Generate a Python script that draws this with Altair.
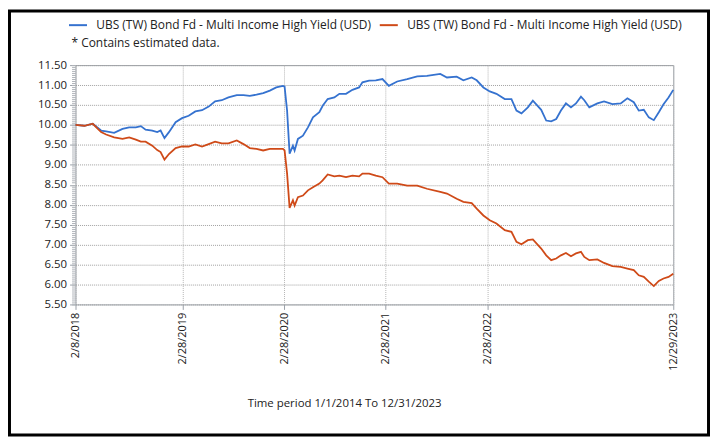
import altair as alt
import pandas as pd

# ---- data ----
dates = [
    "2018-02-08", "2018-03-12", "2018-04-11", "2018-05-11", "2018-05-29", "2018-06-27",
    "2018-07-27", "2018-08-20", "2018-09-13", "2018-10-01", "2018-10-18", "2018-11-11",
    "2018-11-29", "2018-12-11", "2018-12-25", "2019-01-10", "2019-02-03", "2019-02-26",
    "2019-03-22", "2019-04-15", "2019-05-09", "2019-06-02", "2019-06-25", "2019-07-19",
    "2019-08-12", "2019-09-11", "2019-10-05", "2019-10-28", "2019-11-21", "2019-12-15",
    "2020-01-08", "2020-01-31", "2020-02-24", "2020-03-01", "2020-03-10", "2020-03-19",
    "2020-03-31", "2020-04-06", "2020-04-18", "2020-05-06", "2020-05-24", "2020-06-11",
    "2020-07-04", "2020-07-16", "2020-08-03", "2020-08-27", "2020-09-14", "2020-10-08",
    "2020-10-31", "2020-11-24", "2020-12-06", "2020-12-30", "2021-01-23", "2021-02-16",
    "2021-03-11", "2021-04-10", "2021-05-16", "2021-06-21", "2021-07-26", "2021-09-12",
    "2021-10-06", "2021-11-10", "2021-12-04", "2022-01-03", "2022-01-21", "2022-02-14",
    "2022-03-09", "2022-04-02", "2022-05-02", "2022-05-26", "2022-06-13", "2022-07-01",
    "2022-07-24", "2022-08-11", "2022-09-10", "2022-09-28", "2022-10-16", "2022-11-03",
    "2022-11-20", "2022-12-08", "2022-12-26", "2023-01-13", "2023-01-31", "2023-02-12",
    "2023-03-02", "2023-03-31", "2023-04-24", "2023-05-24", "2023-06-23", "2023-07-17",
    "2023-08-09", "2023-08-27", "2023-09-14", "2023-10-02", "2023-10-20", "2023-11-07",
    "2023-11-24", "2023-12-12", "2023-12-29",
]

blue_values = [
    10.00, 9.98, 10.03, 9.86, 9.84, 9.80,
    9.90, 9.94, 9.94, 9.97, 9.88, 9.86,
    9.82, 9.86, 9.67, 9.82, 10.07, 10.17,
    10.23, 10.34, 10.37, 10.46, 10.59, 10.62,
    10.69, 10.75, 10.75, 10.73, 10.76, 10.80,
    10.86, 10.94, 10.98, 10.96, 10.36, 9.28,
    9.48, 9.36, 9.65, 9.73, 9.94, 10.19,
    10.32, 10.48, 10.65, 10.69, 10.78, 10.78,
    10.88, 10.94, 11.07, 11.11, 11.12, 11.15,
    10.98, 11.09, 11.15, 11.22, 11.23, 11.28,
    11.19, 11.21, 11.12, 11.19, 11.12, 10.94,
    10.84, 10.78, 10.65, 10.65, 10.36, 10.29,
    10.44, 10.61, 10.38, 10.11, 10.09, 10.15,
    10.36, 10.54, 10.44, 10.54, 10.71, 10.62,
    10.44, 10.54, 10.59, 10.52, 10.54, 10.67,
    10.57, 10.36, 10.38, 10.19, 10.12, 10.32,
    10.52, 10.69, 10.88,
]

orange_values = [
    10.00, 9.98, 10.03, 9.82, 9.76, 9.69,
    9.65, 9.69, 9.63, 9.58, 9.58, 9.48,
    9.37, 9.32, 9.13, 9.27, 9.42, 9.46,
    9.46, 9.51, 9.46, 9.52, 9.58, 9.54,
    9.54, 9.61, 9.52, 9.42, 9.40, 9.36,
    9.40, 9.40, 9.40, 9.36, 8.78, 7.92,
    8.11, 7.98, 8.19, 8.23, 8.36, 8.44,
    8.53, 8.61, 8.76, 8.71, 8.73, 8.69,
    8.73, 8.71, 8.78, 8.78, 8.73, 8.69,
    8.53, 8.53, 8.48, 8.48, 8.40, 8.32,
    8.28, 8.15, 8.07, 8.04, 7.90, 7.73,
    7.61, 7.53, 7.36, 7.32, 7.07, 7.01,
    7.11, 7.13, 6.90, 6.73, 6.61, 6.65,
    6.73, 6.79, 6.71, 6.78, 6.82, 6.69,
    6.61, 6.63, 6.54, 6.46, 6.44, 6.40,
    6.36, 6.23, 6.19, 6.07, 5.96, 6.09,
    6.15, 6.19, 6.27,
]

series_keys = ["s1", "s2"]
series_name = "UBS (TW) Bond Fd - Multi Income High Yield (USD)"
series_colors = ["#3572cf", "#cf4a18"]

y_major = [5.5, 6.0, 6.5, 7.0, 7.5, 8.0, 8.5, 9.0, 9.5, 10.0, 10.5, 11.0, 11.5]
y_minor = [round(5.5 + 0.05 * i, 2) for i in range(121)]
x_ticks = [(2018, 2, 8), (2019, 2, 28), (2020, 2, 28), (2021, 2, 28), (2022, 2, 28), (2023, 12, 29)]

footnote = "* Contains estimated data."
period_title = "Time period 1/1/2014 To 12/31/2023"

FONT = "Open Sans"

n = len(dates)
df = pd.DataFrame({
    "date": dates * 2,
    "value": blue_values + orange_values,
    "series": [series_keys[0]] * n + [series_keys[1]] * n,
})

W, H = 602, 241

x_scale = alt.Scale(
    type="utc",
    domain=[alt.DateTime(year=2018, month=2, date=8, utc=True),
            alt.DateTime(year=2023, month=12, date=29, utc=True)],
)
y_scale = alt.Scale(domain=[5.5, 11.5], nice=False, zero=False)

x_axis = alt.Axis(
    values=[alt.DateTime(year=a, month=b, date=c, utc=True) for a, b, c in x_ticks],
    labelExpr="utcFormat(datum.value, '%-m/%-d/%Y')",
    labelAngle=270, labelAlign="right", labelBaseline="middle",
    labelFont=FONT, labelFontSize=11, labelColor="#222", labelPadding=3,
    tickSize=5, tickColor="#9aa0a8", domain=False,
    grid=True, gridColor="#b5b5b5", gridDash=[1, 1], gridWidth=1,
    title=None, labelOverlap=False, labelBound=False, labelFlush=False,
)
y_axis = alt.Axis(
    values=y_major, format=".2f", orient="left", offset=0,
    labelFont=FONT, labelFontSize=11.5, labelColor="#222", labelPadding=3,
    tickSize=6, tickColor="#9aa0a8", domain=False,
    grid=True, gridColor="#a0a0a0", gridDash=[1, 1], gridWidth=1,
    title=None,
)
y_minor_axis = alt.Axis(
    values=y_minor, orient="left", offset=0, labels=False, tickSize=4,
    tickColor="#b0b4ba", domain=False, grid=False, title=None,
)

lines = alt.Chart(df).mark_line(strokeWidth=1.8).encode(
    x=alt.X("date:T", scale=x_scale, axis=x_axis),
    y=alt.Y("value:Q", scale=y_scale, axis=y_axis),
    color=alt.Color(
        "series:N",
        scale=alt.Scale(domain=series_keys, range=series_colors),
        legend=alt.Legend(
            orient="none", legendX=-8, legendY=-51, direction="horizontal",
            title=None, symbolType="stroke", symbolStrokeWidth=2, symbolSize=330,
            labelExpr=f"'{series_name}'", labelFont=FONT, labelFontSize=12,
            labelColor="#222", labelLimit=500, labelOffset=8, columnPadding=4,
        ),
    ),
)

minor = alt.Chart(df).mark_line(opacity=0).encode(
    x=alt.X("date:T", scale=x_scale, axis=x_axis),
    y=alt.Y("value:Q", scale=y_scale, axis=y_minor_axis),
)

note = alt.Chart(alt.Data(values=[{"t": footnote}])).mark_text(
    font=FONT, fontSize=12, color="#222", align="left", baseline="middle"
).encode(text="t:N", x=alt.value(-4), y=alt.value(-22))

bottom = alt.Chart(alt.Data(values=[{"t": period_title}])).mark_text(
    font=FONT, fontSize=11.5, color="#222", align="center", baseline="middle"
).encode(text="t:N", x=alt.value(271), y=alt.value(341))

frame = alt.Chart(alt.Data(values=[{"k": 1}])).mark_rect(
    fillOpacity=0, stroke="black", strokeWidth=3
).encode(x=alt.value(-66.5), x2=alt.value(637.5), y=alt.value(-54.5), y2=alt.value(372.5))

chart = alt.layer(lines, minor, note, bottom, frame).resolve_axis(y="independent").properties(
    width=W, height=H,
    padding={"left": 68, "top": 56, "right": 37, "bottom": 133},
    autosize=alt.AutoSizeParams(type="none"),
    background="white",
).configure_view(stroke="#9aa0a8", strokeWidth=1)

chart.save("out.html", embed_options={"renderer": "svg", "actions": False})
